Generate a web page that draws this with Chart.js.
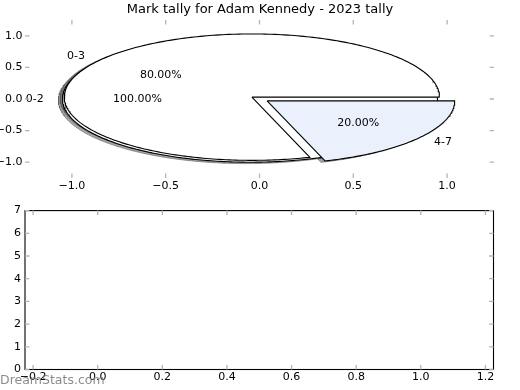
<!DOCTYPE html>
<html><head><meta charset="utf-8">
<script src="https://cdn.jsdelivr.net/npm/chart.js@4.4.0/dist/chart.umd.min.js"></script>
<style>
html,body{margin:0;padding:0;background:#fff;width:520px;height:390px;overflow:hidden;}
#wrap{position:relative;width:520px;height:390px;}
#cTop{position:absolute;left:0;top:0;}
#cBot{position:absolute;left:0;top:200px;}
</style></head>
<body>
<div id="wrap">
<canvas id="cTop" width="520" height="200"></canvas>
<canvas id="cBot" width="520" height="190"></canvas>
</div>
<script>
// ---- data ----
const titleText = 'Mark tally for Adam Kennedy - 2023 tally';
const outerLabels = ['0-2'];
const outerValues = [100];
const innerLabels = ['0-3', '4-7'];
const innerValues = [80, 20];
const pieXTicks = [-1.0, -0.5, 0.0, 0.5, 1.0];
const pieYTicks = [-1.0, -0.5, 0.0, 0.5, 1.0];
const lowerXTicks = [-0.2, 0.0, 0.2, 0.4, 0.6, 0.8, 1.0, 1.2];
const lowerYTicks = [0, 1, 2, 3, 4, 5, 6, 7];
const watermarkText = 'DreamStats.com';

// ---- styles ----
const outerColors = ['#ffffff'];
const innerColors = ['#ffffff', '#eaf0fc'];
const EXPLODE = 0.05;
const SHADOW_OFF = -0.02 * 80 / 72;
const FONT = '"DejaVu Sans", "Liberation Sans", sans-serif';

function hexRgb(h){ const n=parseInt(h.slice(1),16); return [(n>>16)&255,(n>>8)&255,n&255]; }
function shade(h){ const c=hexRgb(h).map(v=>Math.round(v*0.3)); return `rgba(${c[0]},${c[1]},${c[2]},0.5)`; }

function buildWedges(labels, values, colors){
  const total = values.reduce((a,b)=>a+b,0);
  let cum = 0;
  return values.map((v,i)=>{
    const t1 = 360*cum/total, t2 = 360*(cum+v)/total; cum += v;
    const mid = (t1+t2)/2*Math.PI/180;
    const cx = EXPLODE*Math.cos(mid), cy = EXPLODE*Math.sin(mid);
    const full = Math.abs((t2-t1)-360) < 1e-9;
    const pts = [];
    if(!full) pts.push({x:cx,y:cy});
    const n = Math.max(4, Math.ceil(t2-t1));
    for(let k=0;k<=n;k++){
      const a=(t1+(t2-t1)*k/n)*Math.PI/180;
      pts.push({x:cx+Math.cos(a), y:cy+Math.sin(a)});
    }
    if(!full) pts.push({x:cx,y:cy});
    return {label:labels[i], pct:100*v/total, mid, cx, cy, pts, color:colors[i]};
  });
}
const wedges = [...buildWedges(outerLabels, outerValues, outerColors),
                ...buildWedges(innerLabels, innerValues, innerColors)];

const datasets = [];
let drawIdx = 0;
const common = {showLine:true, pointRadius:0, pointHoverRadius:0, tension:0, fill:'shape'};
wedges.forEach(w=>datasets.push(Object.assign({}, common, {
  data: w.pts.map(p=>({x:p.x+SHADOW_OFF, y:p.y+SHADOW_OFF})),
  backgroundColor: shade(w.color), borderColor: shade(w.color), borderWidth:1,
  order: -(drawIdx++)})));
wedges.forEach(w=>datasets.push(Object.assign({}, common, {
  data: w.pts, backgroundColor: w.color, borderColor:'#000', borderWidth:1.1,
  order: -(drawIdx++)})));

function fmt1(v){ if(Math.abs(v)<1e-9) return '0.0'; return (v<0?'\u2212':'') + Math.abs(v).toFixed(1); }
function fixTicks(arr){ return scale => { scale.ticks = arr.map(v=>({value:v})); }; }

const innerTicks = {
  id:'innerTicks',
  afterDraw(chart, args, opts){
    const {ctx, chartArea:a} = chart; const xs=chart.scales.x, ys=chart.scales.y;
    ctx.save();
    if(opts.frame){
      ctx.strokeStyle='#000'; ctx.lineWidth=1.1;
      ctx.strokeRect(a.left, a.top, a.right-a.left, a.bottom-a.top);
    }
    ctx.strokeStyle='#b4b4b4'; ctx.lineWidth=1.3;
    const L=4.4;
    ctx.beginPath();
    xs.ticks.forEach(t=>{ const p=xs.getPixelForValue(t.value);
      ctx.moveTo(p,a.top); ctx.lineTo(p,a.top+L); ctx.moveTo(p,a.bottom); ctx.lineTo(p,a.bottom-L); });
    ys.ticks.forEach(t=>{ const p=ys.getPixelForValue(t.value);
      ctx.moveTo(a.left,p); ctx.lineTo(a.left+L,p); ctx.moveTo(a.right,p); ctx.lineTo(a.right-L,p); });
    ctx.stroke();
    ctx.restore();
  }
};

const pieText = {
  id:'pieText',
  afterDatasetsDraw(chart){
    const ctx=chart.ctx, xs=chart.scales.x, ys=chart.scales.y;
    ctx.save();
    ctx.font = '11px ' + FONT; ctx.fillStyle='#000'; ctx.textBaseline='middle';
    wedges.forEach(w=>{
      const lx = w.cx + 1.1*Math.cos(w.mid), ly = w.cy + 1.1*Math.sin(w.mid);
      ctx.textAlign = lx < 0 ? 'right' : 'left';
      ctx.fillText(w.label, xs.getPixelForValue(lx), ys.getPixelForValue(ly));
      const px = w.cx + 0.6*Math.cos(w.mid), py = w.cy + 0.6*Math.sin(w.mid);
      ctx.textAlign = 'center';
      ctx.fillText(w.pct.toFixed(2)+'%', xs.getPixelForValue(px), ys.getPixelForValue(py));
    });
    ctx.restore();
  }
};

const watermark = {
  id:'watermark',
  afterDraw(chart){
    const ctx=chart.ctx; ctx.save();
    ctx.font='12.5px '+FONT; ctx.fillStyle='rgba(120,120,120,0.85)';
    ctx.textAlign='left'; ctx.textBaseline='alphabetic';
    ctx.fillText(watermarkText, 0, 184);
    ctx.restore();
  }
};

const tickFont = {family:FONT, size:11};

new Chart(document.getElementById('cTop'), {
  type:'scatter',
  data:{datasets},
  plugins:[innerTicks, pieText],
  options:{
    responsive:false, animation:false, events:[],
    layout:{padding:0},
    plugins:{
      legend:{display:false}, tooltip:{enabled:false},
      title:{display:true, text:titleText, color:'#000', font:{family:FONT, size:13, weight:'normal'}, padding:{top:2, bottom:2.4}},
      innerTicks:{frame:false}
    },
    scales:{
      x:{type:'linear', position:'bottom', min:-1.25, max:1.25,
         afterBuildTicks:fixTicks(pieXTicks), afterFit:s=>{s.height=22;},
         grid:{display:false, drawTicks:false}, border:{display:false},
         ticks:{autoSkip:false, maxRotation:0, padding:2, color:'#000', font:tickFont, callback:v=>fmt1(v)}},
      y:{type:'linear', position:'left', min:-1.25, max:1.25,
         afterBuildTicks:fixTicks(pieYTicks), afterFit:s=>{s.width=25;},
         grid:{display:false, drawTicks:false}, border:{display:false},
         ticks:{autoSkip:false, padding:2.5, color:'#000', font:tickFont, callback:v=>fmt1(v)}},
      y2:{type:'linear', position:'right', min:-1.25, max:1.25, afterFit:s=>{s.width=26;},
         grid:{display:false, drawTicks:false}, border:{display:false}, ticks:{display:false}}
    }
  }
});

new Chart(document.getElementById('cBot'), {
  type:'scatter',
  data:{datasets:[]},
  plugins:[innerTicks, watermark],
  options:{
    responsive:false, animation:false, events:[],
    layout:{padding:{top:10}},
    plugins:{legend:{display:false}, tooltip:{enabled:false}, innerTicks:{frame:true}},
    scales:{
      x:{type:'linear', position:'bottom', min:-0.225, max:1.225,
         afterBuildTicks:fixTicks(lowerXTicks), afterFit:s=>{s.height=20.5;},
         grid:{display:false, drawTicks:false}, border:{display:false},
         ticks:{autoSkip:false, maxRotation:0, padding:1.5, color:'#000', font:tickFont, callback:v=>fmt1(v)}},
      y:{type:'linear', position:'left', min:0, max:7,
         afterBuildTicks:fixTicks(lowerYTicks), afterFit:s=>{s.width=25;},
         grid:{display:false, drawTicks:false}, border:{display:false},
         ticks:{autoSkip:false, padding:4, color:'#000', font:tickFont, callback:v=>String(v)}},
      y2:{type:'linear', position:'right', min:0, max:7, afterFit:s=>{s.width=26.5;},
         grid:{display:false, drawTicks:false}, border:{display:false}, ticks:{display:false}}
    }
  }
});
</script>
</body></html>
